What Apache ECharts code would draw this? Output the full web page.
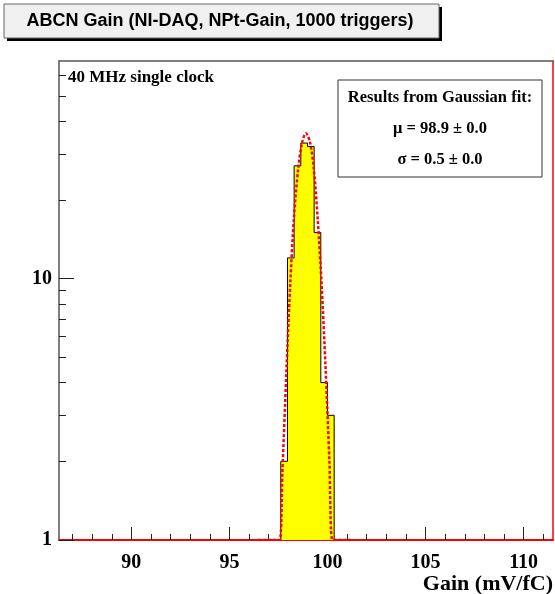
<!DOCTYPE html>
<html>
<head>
<meta charset="utf-8">
<script src="https://cdn.jsdelivr.net/npm/echarts@6/dist/echarts.min.js"></script>
<style>
html, body { margin: 0; padding: 0; background: #fff; }
#gainChart { width: 555px; height: 594px; }
</style>
</head>
<body>
<div id="gainChart"></div>
<script>
// histogram bins (left edges + last right edge) and counts
var binEdges = [97.62, 97.96, 98.30, 98.64, 98.98, 99.32, 99.66, 100.00, 100.34];
var binCounts = [2, 12, 27, 33, 32, 15, 4, 3];

// gaussian fit curve (clipped at the bottom = 1)
var fitX = [96.45, 97.3, 97.56, 97.7, 97.9, 98.1, 98.3, 98.5, 98.7, 98.9, 99.1, 99.3, 99.5, 99.7, 99.9, 100.1, 100.26, 100.6, 101.2];
var fitY = [1, 1, 1, 1.8, 4.3, 9.5, 17.5, 26, 33, 36, 33.5, 26.5, 17, 9.5, 4.6, 2, 1, 1, 1];

// axis ticks / labels
var xLabels = [90, 95, 100, 105, 110];
var xMinorTicks = [87, 88, 89, 91, 92, 93, 94, 96, 97, 98, 99, 101, 102, 103, 104, 106, 107, 108, 109, 111];
var yLabels = [1, 10];
var yMinorTicks = [2, 3, 4, 5, 6, 7, 8, 9, 20, 30, 40, 50, 60];

var xMin = 86.31, xMax = 111.5;
var yMin = 1, yMax = 68;

var serifBold = 'Liberation Serif';

var histData = [[binEdges[0], yMin]];
for (var i = 0; i < binCounts.length; i++) {
    histData.push([binEdges[i], binCounts[i]]);
}
histData.push([binEdges[binEdges.length - 1], binCounts[binCounts.length - 1]]);
histData.push([binEdges[binEdges.length - 1], yMin]);

var fitData = fitX.map(function (x, i) { return [x, fitY[i]]; });

var gainChart = echarts.init(document.getElementById('gainChart'));
var option = {
    backgroundColor: '#fff',
    animation: false,
    grid: {
        left: 59,
        right: 2,
        top: 61,
        bottom: 54,
        containLabel: false
    },
    xAxis: [
        {
            type: 'value',
            min: xMin,
            max: xMax,
            position: 'bottom',
            axisLine: { show: true, lineStyle: { color: '#ff0000', width: 2 } },
            axisTick: {
                show: true, inside: true, length: 13,
                customValues: xLabels,
                lineStyle: { color: '#222', width: 1 }
            },
            axisLabel: {
                show: true,
                customValues: xLabels,
                margin: 13,
                color: '#000',
                fontFamily: serifBold,
                fontWeight: 'bold',
                fontSize: 20
            },
            splitLine: { show: false }
        },
        {
            type: 'value',
            min: xMin,
            max: xMax,
            position: 'bottom',
            axisLine: { show: false },
            axisTick: {
                show: true, inside: true, length: 6,
                customValues: xMinorTicks,
                lineStyle: { color: '#222', width: 1 }
            },
            axisLabel: { show: false },
            splitLine: { show: false }
        },
        {
            type: 'value',
            min: xMin,
            max: xMax,
            position: 'top',
            axisLine: { show: true, lineStyle: { color: '#555', width: 1.5 } },
            axisTick: { show: false },
            axisLabel: { show: false },
            splitLine: { show: false }
        }
    ],
    yAxis: [
        {
            type: 'log',
            logBase: 10,
            min: yMin,
            max: yMax,
            position: 'left',
            axisLine: { show: true, lineStyle: { color: '#555', width: 1.5 } },
            axisTick: {
                show: true, inside: true, length: 15,
                customValues: yLabels,
                lineStyle: { color: '#222', width: 1 }
            },
            axisLabel: {
                show: true,
                customValues: yLabels,
                margin: 7,
                color: '#000',
                fontFamily: serifBold,
                fontWeight: 'bold',
                fontSize: 20
            },
            splitLine: { show: false }
        },
        {
            type: 'log',
            logBase: 10,
            min: yMin,
            max: yMax,
            position: 'left',
            axisLine: { show: false },
            axisTick: {
                show: true, inside: true, length: 7,
                customValues: yMinorTicks,
                lineStyle: { color: '#222', width: 1 }
            },
            axisLabel: { show: false },
            splitLine: { show: false }
        },
        {
            type: 'log',
            logBase: 10,
            min: yMin,
            max: yMax,
            position: 'right',
            axisLine: { show: true, lineStyle: { color: '#ff0000', width: 1.5 } },
            axisTick: { show: false },
            axisLabel: { show: false },
            splitLine: { show: false }
        }
    ],
    series: [
        {
            name: 'hist',
            type: 'line',
            step: 'end',
            symbol: 'none',
            xAxisIndex: 0,
            yAxisIndex: 0,
            data: histData,
            lineStyle: { color: '#000', width: 1 },
            areaStyle: { color: '#ffff00', origin: 'start', opacity: 1 },
            z: 2
        },
        {
            name: 'fit',
            type: 'line',
            symbol: 'none',
            xAxisIndex: 0,
            yAxisIndex: 0,
            data: fitData,
            smooth: 0.3,
            lineStyle: { color: '#ff0000', width: 2.5, type: [3, 2] },
            z: 3
        }
    ],
    graphic: [
        // title box with shadow
        { type: 'rect', shape: { x: 7, y: 7, width: 435, height: 34 }, style: { fill: '#000' }, z: 10 },
        { type: 'rect', shape: { x: 4, y: 4, width: 435, height: 34 }, style: { fill: '#f0f0f0', stroke: '#666', lineWidth: 1 }, z: 11 },
        {
            type: 'text', x: 220, y: 21, z: 12,
            style: {
                text: 'ABCN Gain (NI-DAQ, NPt-Gain, 1000 triggers)',
                font: 'bold 18px "Liberation Sans"',
                fill: '#000', textAlign: 'center', textVerticalAlign: 'middle'
            }
        },
        {
            type: 'text', x: 68, y: 78, z: 12,
            style: {
                text: '40 MHz single clock',
                font: 'bold 17px "Liberation Serif"',
                fill: '#000', textAlign: 'left', textVerticalAlign: 'middle'
            }
        },
        // fit results box
        { type: 'rect', shape: { x: 338, y: 80, width: 204, height: 97 }, style: { fill: '#fff', stroke: '#333', lineWidth: 1 }, z: 10 },
        {
            type: 'text', x: 440, y: 98, z: 12,
            style: {
                text: 'Results from Gaussian fit:',
                font: 'bold 16.5px "Liberation Serif"',
                fill: '#000', textAlign: 'center', textVerticalAlign: 'middle'
            }
        },
        {
            type: 'text', x: 440, y: 129, z: 12,
            style: {
                text: 'μ = 98.9 ± 0.0',
                font: 'bold 16.5px "Liberation Serif"',
                fill: '#000', textAlign: 'center', textVerticalAlign: 'middle'
            }
        },
        {
            type: 'text', x: 440, y: 160, z: 12,
            style: {
                text: 'σ = 0.5 ± 0.0',
                font: 'bold 16.5px "Liberation Serif"',
                fill: '#000', textAlign: 'center', textVerticalAlign: 'middle'
            }
        },
        // x axis title
        {
            type: 'text', x: 553, y: 584, z: 12,
            style: {
                text: 'Gain (mV/fC)',
                font: 'bold 22px "Liberation Serif"',
                fill: '#000', textAlign: 'right', textVerticalAlign: 'middle'
            }
        }
    ]
};
gainChart.setOption(option);
</script>
</body>
</html>
